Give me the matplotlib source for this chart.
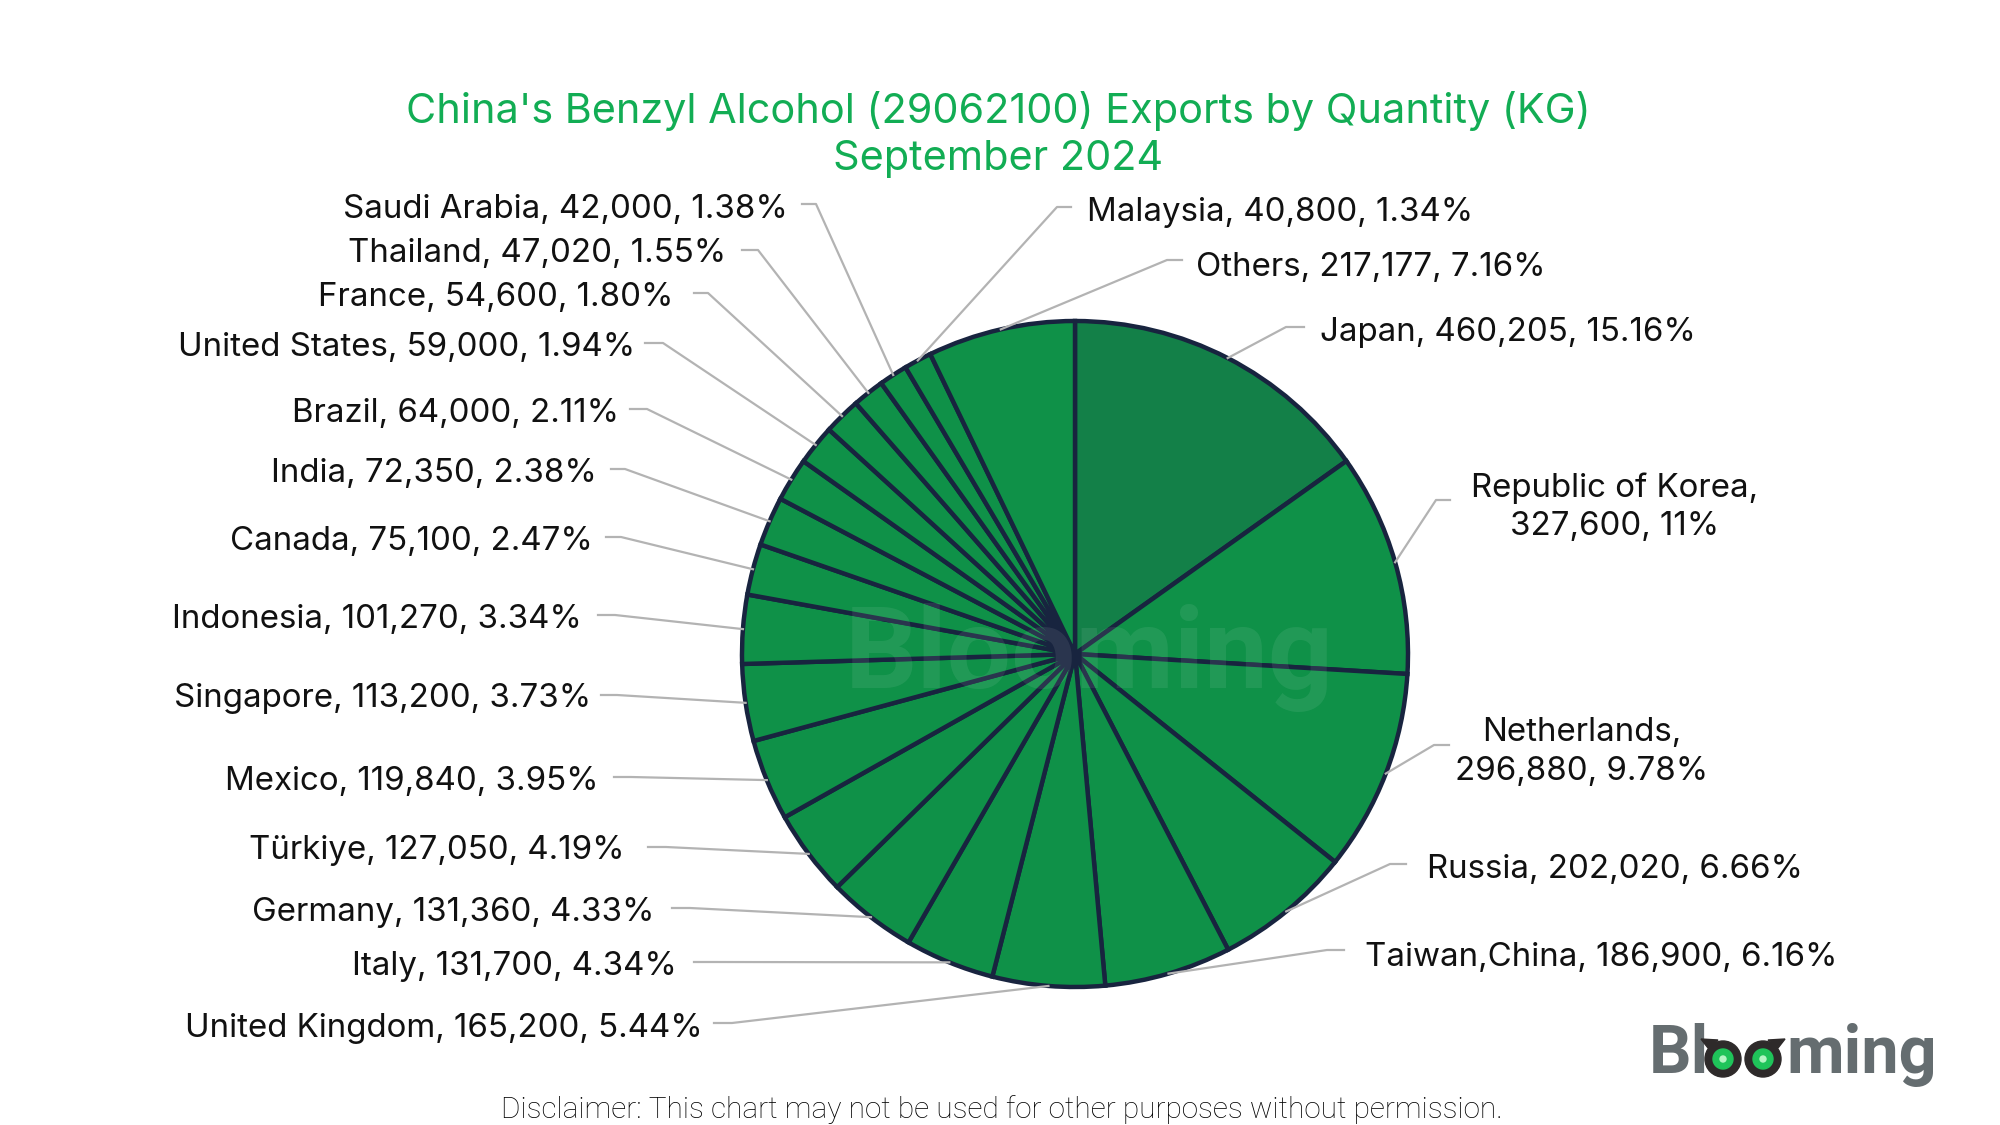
import matplotlib
matplotlib.use('Agg')
import numpy as np
import matplotlib.pyplot as plt
from matplotlib.patches import Circle, Polygon

plt.rcParams['font.family'] = ['Inter', 'DejaVu Sans']

# clockwise from 12 o'clock
countries = ['Japan', 'Republic of Korea', 'Netherlands', 'Russia', 'Taiwan,China',
             'United Kingdom', 'Italy', 'Germany', 'Türkiye', 'Mexico', 'Singapore',
             'Indonesia', 'Canada', 'India', 'Brazil', 'United States', 'France',
             'Thailand', 'Saudi Arabia', 'Malaysia', 'Others']
quantity = [460205, 327600, 296880, 202020, 186900, 165200, 131700, 131360, 127050,
            119840, 113200, 101270, 75100, 72350, 64000, 59000, 54600, 47020, 42000,
            40800, 217177]
share = ['15.16%', '11%', '9.78%', '6.66%', '6.16%', '5.44%', '4.34%', '4.33%', '4.19%',
         '3.95%', '3.73%', '3.34%', '2.47%', '2.38%', '2.11%', '1.94%', '1.80%', '1.55%',
         '1.38%', '1.34%', '7.16%']

# label layout in image pixels: text anchor x, text y, leader start x, elbow x, elbow y
label_x = [1320, 1615, 1582, 1427, 1365, 703, 677, 654, 625, 599, 591, 582, 593, 597, 619,
           635, 673, 726, 788, 1087, 1196]
label_y = [333, 507, 752, 870, 957, 1028, 966, 912, 851, 781, 699, 619, 541, 474, 414,
           347, 298, 254, 210, 213, 267]
line_x0 = [1304, 1450, 1449, 1406, 1344, 714, 694, 672, 648, 614, 601, 598, 606, 611, 630,
           645, 694, 742, 802, 1071, 1182]
line_x1 = [1286, 1436, 1434, 1390, 1327, 732, 712, 690, 666, 631, 617, 615, 621, 625, 647,
           663, 708, 758, 816, 1057, 1167]
line_y = [327, 500, 745, 864, 950, 1023, 962, 908, 847, 777, 695, 615, 537, 469, 409,
          343, 293, 250, 204, 207, 260]

W, H = 2000, 1125
CX, CY, R = 1075, 654, 333
TITLE_GREEN = '#12ad54'
EDGE = '#18243f'
LEADER = '#b3b3b3'

fig = plt.figure(figsize=(20, 11.25), dpi=100, facecolor='white')
ax = fig.add_axes([0, 0, 1, 1])

colors = ['#138048'] + ['#0f9148'] * (len(quantity) - 1)
wedges, _ = ax.pie(quantity, colors=colors, startangle=90, counterclock=False,
                   center=(CX, H - CY), radius=R,
                   wedgeprops=dict(edgecolor=EDGE, linewidth=3.2))
ax.set_xlim(0, W)
ax.set_ylim(0, H)
ax.set_aspect('equal')
ax.axis('off')

# leader lines from the middle of each wedge's arc
total = sum(quantity)
mids = (np.cumsum(quantity) - np.array(quantity) / 2) / total * 2 * np.pi
for i in range(len(quantity)):
    ex = CX + R * np.sin(mids[i])
    ey = CY - R * np.cos(mids[i])
    ax.plot([ex, line_x1[i], line_x0[i]], [H - ey, H - line_y[i], H - line_y[i]],
            color=LEADER, lw=1.6, zorder=3)

for i in range(len(quantity)):
    name = countries[i]
    if name in ('Republic of Korea', 'Netherlands'):
        txt = f'{name},\n{quantity[i]:,}, {share[i]}'
        ax.text(label_x[i], H - label_y[i], txt, ha='center', va='center', fontsize=23.8,
                color='#111111', linespacing=1.3)
    else:
        ha = 'left' if mids[i] < np.pi or name in ('Malaysia', 'Others') else 'right'
        if name == 'Taiwan,China':
            ha = 'left'
        ax.text(label_x[i], H - label_y[i], f'{name}, {quantity[i]:,}, {share[i]}', ha=ha,
                va='center', fontsize=23.8, color='#111111')

ax.text(998, H - 111, "China's Benzyl Alcohol (29062100) Exports by Quantity (KG)",
        ha='center', va='center', fontsize=29.8, color=TITLE_GREEN)
ax.text(998, H - 159, 'September 2024', ha='center', va='center', fontsize=29.8, color=TITLE_GREEN)

# watermark on the pie
ax.text(1089, H - 657, 'Blooming', ha='center', va='center', fontsize=82, fontweight='bold',
        color='white', alpha=0.08, zorder=4, family='Roboto')

ax.text(1002, H - 1110, 'Disclaimer: This chart may not be used for other purposes without permission.',
        ha='center', va='center', fontsize=21.4, color='#000000', family='Roboto', fontweight='light')

# logo
LOGO_GREY = '#656d70'
ax.text(1649, H - 1073, 'Bl', ha='left', va='baseline', fontsize=48, fontweight='bold',
        color=LOGO_GREY, family='Roboto')
ax.text(1786, H - 1073, 'ming', ha='left', va='baseline', fontsize=48, fontweight='bold',
        color=LOGO_GREY, family='Roboto')
for ex in (1723, 1763):
    ax.add_patch(Circle((ex, H - 1059), 18, color='#2e2a2a', zorder=5))
    ax.add_patch(Circle((ex, H - 1059), 10, color='#1fc45a', zorder=6))
    ax.add_patch(Circle((ex, H - 1059), 3, color='#b5f5c5', zorder=7))
ax.add_patch(Polygon([(1701, H - 1039), (1718, H - 1040), (1708, H - 1048)], color='#2e2a2a', zorder=5))
ax.add_patch(Polygon([(1785, H - 1039), (1768, H - 1040), (1778, H - 1048)], color='#2e2a2a', zorder=5))

fig.savefig('out.png', dpi=100)
